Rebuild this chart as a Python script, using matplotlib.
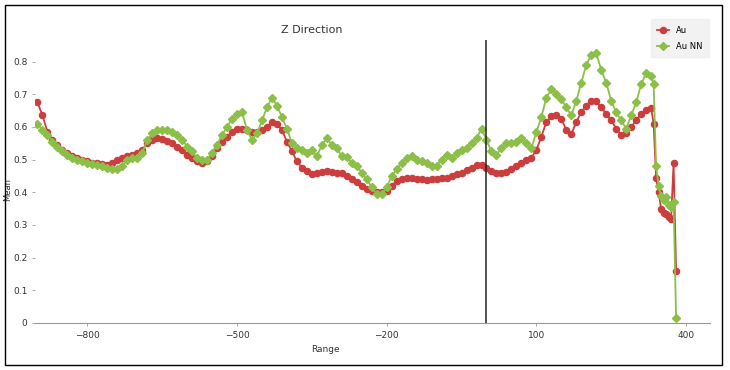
import numpy as np
import matplotlib.pyplot as plt

# range grid: 10 steps up to 330, then 5 steps at the tail
rng = list(np.arange(-900, 331, 10)) + [335, 340, 345, 350, 355, 360, 365, 370, 375, 380]

au = [0.675, 0.635, 0.585, 0.56, 0.545, 0.53, 0.52, 0.51, 0.505, 0.50,
      0.495, 0.49, 0.49, 0.488, 0.485, 0.49, 0.50, 0.505, 0.51, 0.515,
      0.52, 0.53, 0.55, 0.56, 0.565, 0.562, 0.558, 0.55, 0.54, 0.53,
      0.515, 0.505, 0.495, 0.49, 0.495, 0.51, 0.535, 0.555, 0.57, 0.585,
      0.595, 0.595, 0.59, 0.585, 0.585, 0.59, 0.60, 0.615, 0.61, 0.59,
      0.555, 0.525, 0.495, 0.475, 0.465, 0.455, 0.46, 0.462, 0.465, 0.463,
      0.46, 0.46, 0.45, 0.44, 0.43, 0.42, 0.41, 0.403, 0.40, 0.40,
      0.405, 0.42, 0.435, 0.44, 0.445, 0.443, 0.44, 0.44, 0.438, 0.44,
      0.44, 0.443, 0.445, 0.45, 0.455, 0.46, 0.468, 0.475, 0.483, 0.485,
      0.475, 0.465, 0.46, 0.46, 0.462, 0.47, 0.48, 0.49, 0.498, 0.505,
      0.53, 0.57, 0.615, 0.632, 0.638, 0.625, 0.59, 0.578, 0.615, 0.645,
      0.665, 0.68, 0.678, 0.66, 0.64, 0.62, 0.595, 0.575, 0.58, 0.60,
      0.62, 0.64, 0.652, 0.657,
      0.61, 0.443, 0.40, 0.35, 0.336, 0.333, 0.325, 0.318, 0.49, 0.16]

au_nn = [0.61, 0.59, 0.575, 0.555, 0.54, 0.525, 0.515, 0.505, 0.50, 0.495,
         0.49, 0.487, 0.483, 0.48, 0.475, 0.47, 0.47, 0.48, 0.50, 0.505,
         0.505, 0.52, 0.56, 0.58, 0.59, 0.59, 0.59, 0.585, 0.575, 0.56,
         0.54, 0.525, 0.505, 0.498, 0.50, 0.52, 0.545, 0.575, 0.60, 0.625,
         0.64, 0.645, 0.59, 0.56, 0.58, 0.62, 0.66, 0.69, 0.665, 0.63,
         0.595, 0.55, 0.535, 0.53, 0.52, 0.53, 0.51, 0.545, 0.565, 0.545,
         0.535, 0.51, 0.508, 0.49, 0.48, 0.46, 0.44, 0.415, 0.395, 0.395,
         0.415, 0.45, 0.47, 0.49, 0.505, 0.51, 0.50, 0.495, 0.49, 0.48,
         0.48, 0.50, 0.515, 0.505, 0.52, 0.53, 0.535, 0.55, 0.565, 0.595,
         0.56, 0.525, 0.515, 0.535, 0.55, 0.55, 0.555, 0.565, 0.55, 0.535,
         0.585, 0.63, 0.69, 0.715, 0.70, 0.685, 0.66, 0.635, 0.68, 0.735,
         0.79, 0.82, 0.825, 0.775, 0.735, 0.68, 0.645, 0.62, 0.595, 0.635,
         0.675, 0.73, 0.765, 0.755,
         0.73, 0.48, 0.42, 0.39, 0.376, 0.385, 0.36, 0.355, 0.37, 0.015]

red = '#cc3d3d'
green = '#8cbf48'

fig = plt.figure(figsize=(7.3, 3.7), dpi=100)
ax = fig.add_axes([35 / 730, 1 - 323 / 370, 675 / 730, 283 / 370])

ax.plot(rng, au, color=red, marker='o', markersize=4.4, linewidth=1.3, label='Au')
ax.plot(rng, au_nn, color=green, marker='D', markersize=3.6, linewidth=1.3, label='Au NN')
ax.axvline(0, color='#222222', linewidth=1.1)

ax.set_xlim(-905, 448)
ax.set_ylim(0, 0.866)
ax.set_xticks([-800, -500, -200, 100, 400])
ax.set_yticks([0, 0.1, 0.2, 0.3, 0.4, 0.5, 0.6, 0.7, 0.8])
ax.set_yticklabels(['0', '0.1', '0.2', '0.3', '0.4', '0.5', '0.6', '0.7', '0.8'])
ax.tick_params(axis='both', labelsize=6.5, colors='#999999', labelcolor='#333333', length=2, width=0.6)
for s in ['top', 'right', 'left']:
    ax.spines[s].set_visible(False)
ax.spines['bottom'].set_color('#999999')

ax.set_xlabel('Range', fontsize=6.5, color='#333333')
ax.xaxis.set_label_coords((325 - 35) / 675, -0.078)
ax.set_ylabel('Mean', fontsize=6, color='#333333')
ax.yaxis.set_label_coords(-0.034, 0.47)

fig.text(312 / 730, 1 - 30 / 370, 'Z Direction', fontsize=8, color='#333333', ha='center', va='center')

leg = ax.legend(loc='upper right', bbox_to_anchor=(713 / 730, 1 - 15 / 370), bbox_transform=fig.transFigure,
                fontsize=6, handlelength=1.4, frameon=True, fancybox=False, borderpad=0.8, labelspacing=0.8)
leg.get_frame().set_facecolor('#efefef')
leg.get_frame().set_edgecolor('#efefef')

fig.patches.append(plt.Rectangle((5 / 730, 5 / 370), 717 / 730, 360 / 370, transform=fig.transFigure,
                                 fill=False, edgecolor='black', linewidth=1.0))

fig.savefig('out.png', dpi=100)
